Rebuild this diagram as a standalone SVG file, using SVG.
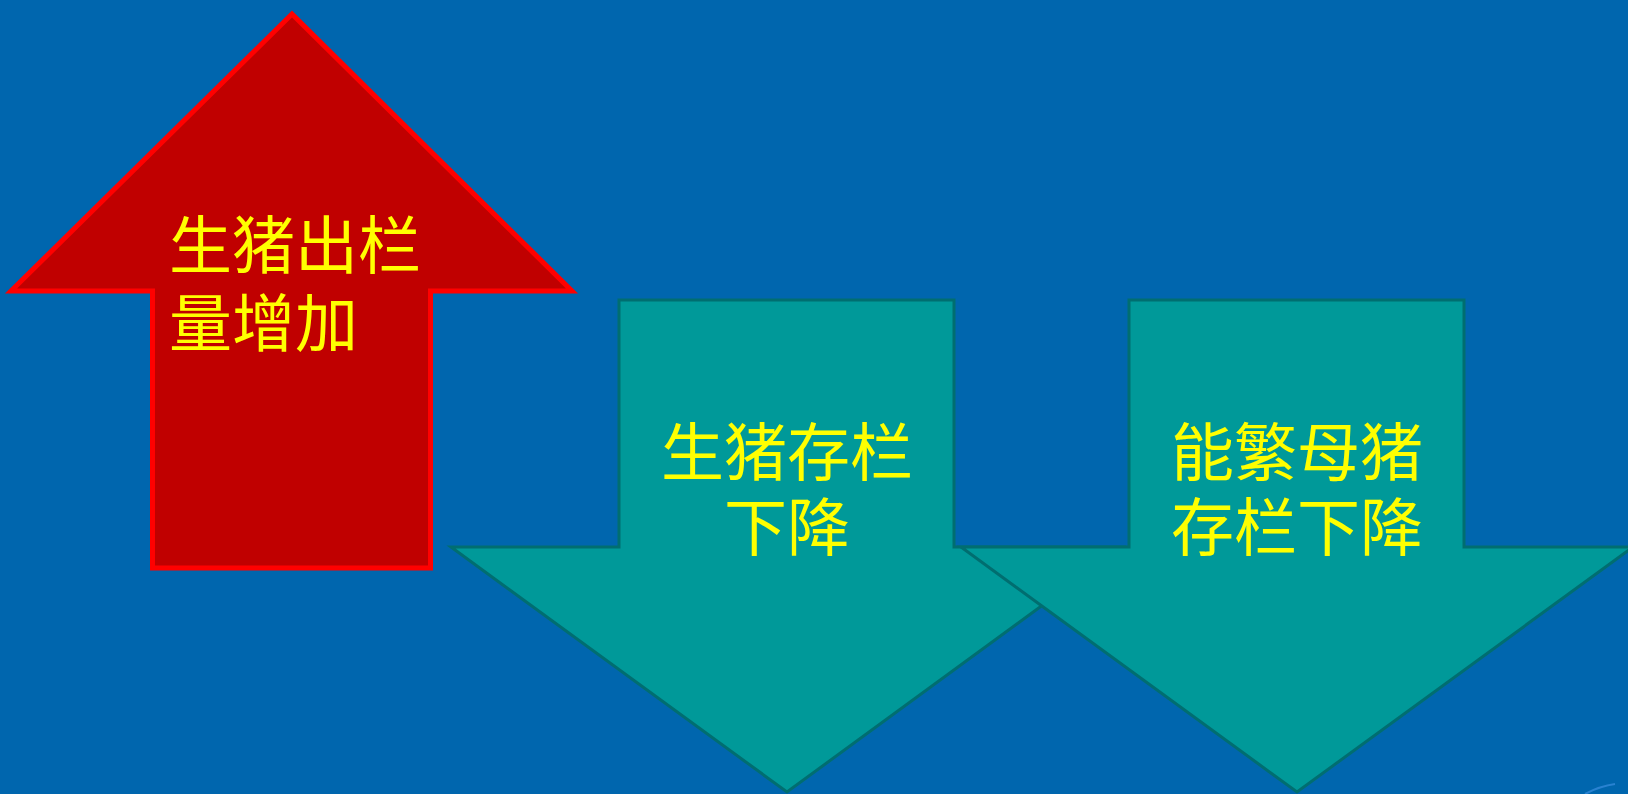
<svg xmlns="http://www.w3.org/2000/svg" width="1628" height="794" viewBox="0 0 1628 794">
<style>
.up{fill:#C00000;stroke:#FF0000;stroke-width:5;stroke-linejoin:miter}
.down{fill:#009999;stroke:#006E70;stroke-width:3;stroke-linejoin:miter}
.lbl{font-family:"Noto Sans CJK SC","Noto Sans CJK JP",sans-serif;font-size:63px;fill:#FFFF00}
.mid{text-anchor:middle}
</style>
<rect x="0" y="0" width="1628" height="794" fill="#0066AE"/>
<g id="node-up">
<polygon class="up" points="292,14 11,291 152.5,291 152.5,568 430.5,568 430.5,291 572,291"/>
<text class="lbl" x="169" y="268">生猪出栏</text>
<text class="lbl" x="169" y="346">量增加</text>
</g>
<g id="node-down1">
<polygon class="down" points="619,300 954,300 954,547 1122,547 787,792 451,547 619,547"/>
<text class="lbl mid" x="787" y="475">生猪存栏</text>
<text class="lbl mid" x="787" y="550">下降</text>
</g>
<g id="node-down2">
<polygon class="down" points="1129,300 1464,300 1464,547 1633,547 1297,792 961,547 1129,547"/>
<text class="lbl mid" x="1297" y="475">能繁母猪</text>
<text class="lbl mid" x="1297" y="550">存栏下降</text>
</g>
<g id="connectors"></g>
<path d="M1585,794 Q1600,786 1615,784" fill="none" stroke="#3A8FE0" stroke-width="2" opacity="0.7"/>
</svg>
